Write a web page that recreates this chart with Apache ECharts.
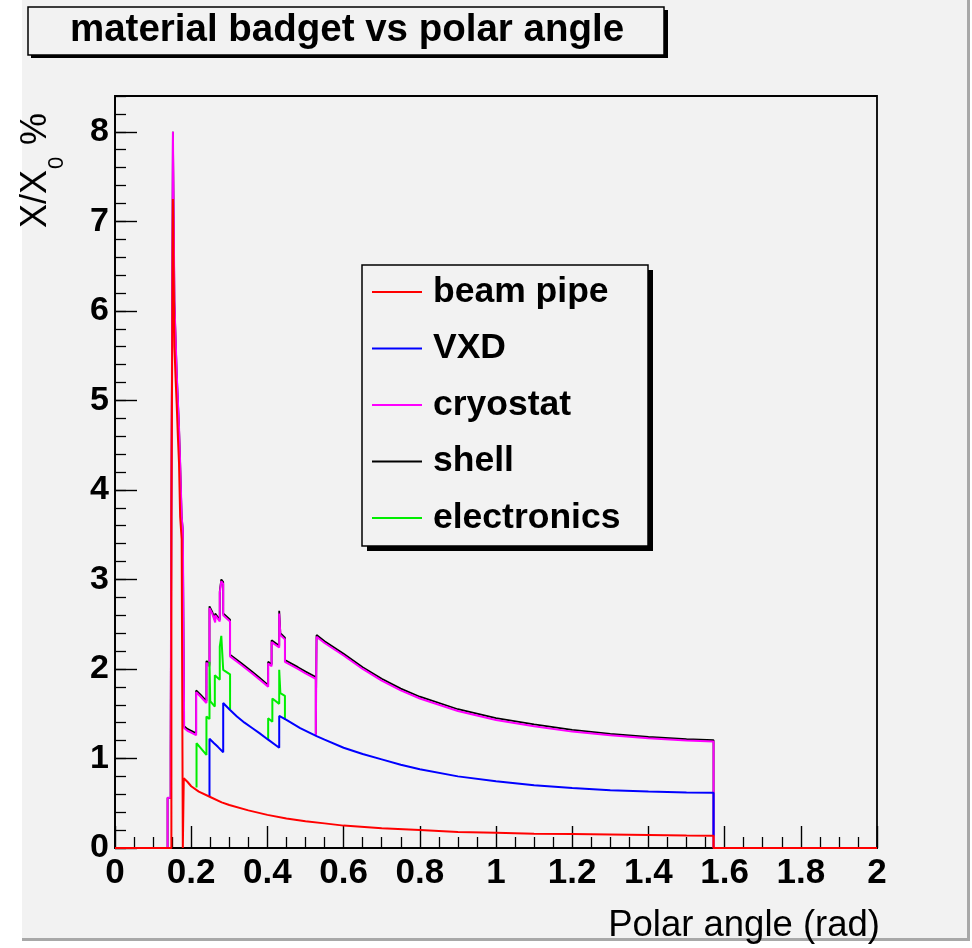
<!DOCTYPE html>
<html><head><meta charset="utf-8">
<script src="https://cdn.jsdelivr.net/npm/echarts@6/dist/echarts.min.js"></script>
<style>html,body{margin:0;padding:0;background:#fff}#c{width:972px;height:948px}</style>
</head><body><div id="c"></div>
<script>
// ---- data (x = polar angle in rad, y = X/X0 %) ----
const legendOrder = ['beam pipe', 'VXD', 'cryostat', 'shell', 'electronics'];
const xTicks = { min: 0, max: 2, interval: 0.2 };
const yTicks = { min: 0, max: 8.4, interval: 1 };

const beamPipe = [[0,0],[0.148,0],[0.148,3.7],[0.152,3.7],[0.152,7.25],[0.156,7.25],[0.156,5.6],[0.159,5.6],[0.159,5.25],[0.162,5.25],[0.162,4.95],[0.165,4.95],[0.165,4.6],[0.168,4.6],[0.168,4.3],[0.171,4.3],[0.171,3.7],[0.175,3.7],[0.175,3.45],[0.178,3.45],[0.178,0],[0.1805,0],[0.1805,0.78],[0.19,0.74],[0.2,0.69],[0.22,0.63],[0.25,0.57],[0.28,0.51],[0.3,0.48],[0.35,0.42],[0.4,0.37],[0.45,0.33],[0.5,0.30],[0.55,0.275],[0.6,0.25],[0.7,0.22],[0.8,0.20],[0.9,0.18],[1.0,0.17],[1.1,0.16],[1.2,0.155],[1.3,0.15],[1.4,0.145],[1.5,0.14],[1.571,0.138],[1.571,0],[2,0]];

const vxd = [[0.248,0.57],[0.248,1.22],[0.26,1.17],[0.27,1.13],[0.284,1.07],[0.284,1.62],[0.30,1.55],[0.32,1.47],[0.34,1.40],[0.36,1.34],[0.38,1.28],[0.402,1.21],[0.431,1.12],[0.431,1.475],[0.45,1.43],[0.486,1.34],[0.529,1.25],[0.55,1.21],[0.6,1.12],[0.65,1.05],[0.7,0.99],[0.75,0.93],[0.8,0.88],[0.9,0.80],[1.0,0.745],[1.1,0.70],[1.2,0.67],[1.3,0.645],[1.4,0.63],[1.5,0.62],[1.571,0.618],[1.571,0.138]];

const cryostat = [[0,0],[0.138,0],[0.138,0.56],[0.146,0.56],[0.146,1.1],[0.148,1.1],[0.148,3.8],[0.152,3.8],[0.152,8.0],[0.156,8.0],[0.156,6.1],[0.159,6.1],[0.159,5.7],[0.162,5.7],[0.162,5.3],[0.165,5.3],[0.165,5.0],[0.168,5.0],[0.168,4.7],[0.171,4.7],[0.171,4.3],[0.175,4.3],[0.175,3.7],[0.178,3.7],[0.178,3.55],[0.1815,3.55],[0.1815,1.34],[0.19,1.31],[0.2,1.29],[0.213,1.26],[0.213,1.74],[0.225,1.69],[0.240,1.62],[0.240,2.07],[0.248,2.03],[0.248,2.68],[0.255,2.62],[0.263,2.52],[0.263,2.60],[0.275,2.53],[0.275,2.85],[0.279,2.83],[0.279,2.98],[0.284,2.95],[0.284,2.60],[0.302,2.53],[0.302,2.14],[0.33,2.05],[0.36,1.95],[0.38,1.88],[0.402,1.80],[0.402,2.06],[0.411,2.03],[0.411,2.30],[0.431,2.24],[0.431,2.62],[0.434,2.62],[0.434,2.38],[0.446,2.33],[0.446,2.08],[0.48,2.0],[0.5,1.95],[0.527,1.89],[0.527,1.25],[0.529,1.25],[0.529,2.36],[0.55,2.29],[0.6,2.15],[0.65,2.0],[0.7,1.87],[0.75,1.76],[0.8,1.67],[0.9,1.53],[1.0,1.43],[1.1,1.36],[1.2,1.30],[1.3,1.26],[1.4,1.225],[1.5,1.20],[1.571,1.19],[1.571,0],[2,0]];

const shell = [[0,0],[0.138,0],[0.138,0.56],[0.146,0.56],[0.146,1.1],[0.148,1.1],[0.148,3.8],[0.152,3.8],[0.152,8.0],[0.156,8.0],[0.156,6.1],[0.159,6.1],[0.159,5.7],[0.162,5.7],[0.162,5.3],[0.165,5.3],[0.165,5.0],[0.168,5.0],[0.168,4.7],[0.171,4.7],[0.171,4.3],[0.175,4.3],[0.175,3.7],[0.178,3.7],[0.178,3.55],[0.1815,3.55],[0.1815,1.36],[0.19,1.33],[0.2,1.31],[0.213,1.28],[0.213,1.76],[0.225,1.71],[0.240,1.64],[0.240,2.09],[0.248,2.05],[0.248,2.70],[0.255,2.64],[0.263,2.54],[0.263,2.62],[0.275,2.55],[0.275,2.87],[0.279,2.85],[0.279,3.0],[0.284,2.97],[0.284,2.62],[0.302,2.55],[0.302,2.16],[0.33,2.07],[0.36,1.97],[0.38,1.90],[0.402,1.82],[0.402,2.08],[0.411,2.05],[0.411,2.32],[0.431,2.26],[0.431,2.65],[0.434,2.65],[0.434,2.40],[0.446,2.35],[0.446,2.10],[0.48,2.02],[0.5,1.97],[0.527,1.91],[0.527,1.27],[0.529,1.27],[0.529,2.38],[0.55,2.31],[0.6,2.17],[0.65,2.02],[0.7,1.89],[0.75,1.78],[0.8,1.69],[0.9,1.55],[1.0,1.45],[1.1,1.38],[1.2,1.32],[1.3,1.275],[1.4,1.24],[1.5,1.215],[1.571,1.205],[1.571,0],[2,0]];

const electronics = [[0.214,0.675],[0.214,1.17],[0.23,1.09],[0.240,1.04],[0.240,1.47],[0.248,1.44],[0.248,2.08],[0.250,2.08],[0.250,1.64],[0.262,1.58],[0.262,1.93],[0.275,1.88],[0.275,2.25],[0.279,2.24],[0.279,2.37],[0.284,2.36],[0.284,1.99],[0.302,1.94],[0.302,1.55],null,[0.402,1.21],[0.402,1.45],[0.413,1.41],[0.413,1.67],[0.431,1.61],[0.431,1.99],[0.434,1.99],[0.434,1.73],[0.446,1.70],[0.446,1.43]];

// ---- chart ----
const FONT = '"Liberation Sans", Arial, Helvetica, sans-serif';
const chart = echarts.init(document.getElementById('c'), null, { renderer: 'canvas' });

function line(name, data, color, width) {
  return {
    name: name, type: 'line', data: data, symbol: 'none', showSymbol: false,
    connectNulls: false, animation: false, silent: true,
    lineStyle: { color: color, width: width },
    itemStyle: { color: color }
  };
}

const option = {
  backgroundColor: '#f2f2f2',
  animation: false,
  grid: { left: 115, right: 95, top: 96, bottom: 100, show: true, borderColor: '#000', borderWidth: 1.8, backgroundColor: 'transparent', containLabel: false, outerBoundsMode: 'none' },
  xAxis: {
    type: 'value', min: xTicks.min, max: xTicks.max, interval: xTicks.interval,
    axisLine: { show: true, lineStyle: { color: '#000', width: 1.8 } },
    axisTick: { show: true, inside: true, length: 22, lineStyle: { color: '#000', width: 1.4 } },
    minorTick: { show: true, splitNumber: 4, length: 11, lineStyle: { color: '#000', width: 1.3 } },
    splitLine: { show: false },
    axisLabel: { margin: 8, fontSize: 35, fontWeight: 'bold', color: '#000', fontFamily: FONT, showMinLabel: true, showMaxLabel: true }
  },
  yAxis: [{
    type: 'value', min: yTicks.min, max: yTicks.max, interval: yTicks.interval,
    axisLine: { show: true, lineStyle: { color: '#000', width: 1.8 } },
    axisTick: { show: true, inside: true, length: 22, lineStyle: { color: '#000', width: 1.4 } },
    splitLine: { show: false },
    axisLabel: { margin: 6, fontSize: 34, fontWeight: 'bold', color: '#000', fontFamily: FONT, showMaxLabel: false }
  }, {
    type: 'value', min: yTicks.min, max: yTicks.max, interval: 0.2, position: 'left',
    axisLine: { show: false },
    axisTick: { show: true, inside: true, length: 11, lineStyle: { color: '#000', width: 1.3 } },
    splitLine: { show: false },
    axisLabel: { show: false }
  }],
  legend: {
    data: legendOrder, orient: 'vertical', left: 362, top: 265,
    padding: [9, 20, 10, 10], itemGap: 20.5, itemWidth: 50, itemHeight: 2, icon: 'rect',
    selectedMode: false, z: 8,
    textStyle: { fontSize: 35.5, fontWeight: 'bold', color: '#000', fontFamily: FONT, lineHeight: 36, padding: [0, 0, 0, 6] }
  },
  graphic: [
    { type: 'rect', silent: true, shape: { x: 0, y: 0, width: 22, height: 948 }, style: { fill: '#fff' } },
    { type: 'rect', silent: true, shape: { x: 0, y: 941, width: 972, height: 7 }, style: { fill: '#fff' } },
    { type: 'rect', silent: true, shape: { x: 970, y: 0, width: 2, height: 948 }, style: { fill: '#fff' } },
    { type: 'rect', silent: true, shape: { x: 967, y: 0, width: 3, height: 941 }, style: { fill: '#a8a8a8' } },
    { type: 'rect', silent: true, shape: { x: 22, y: 938, width: 948, height: 3 }, style: { fill: '#a8a8a8' } },
    // title box
    { type: 'rect', silent: true, shape: { x: 31, y: 10, width: 637, height: 48 }, style: { fill: '#000' } },
    { type: 'rect', silent: true, shape: { x: 28, y: 7, width: 636, height: 48 }, style: { fill: '#f2f2f2', stroke: '#000', lineWidth: 1.5 } },
    { type: 'text', silent: true, x: 347, y: 30, style: { text: 'material badget vs polar angle', font: 'bold 38.5px ' + FONT, fill: '#000', textAlign: 'center', textVerticalAlign: 'middle', align: 'center', verticalAlign: 'middle' } },
    // legend box
    { type: 'rect', silent: true, z: 4, shape: { x: 367, y: 270, width: 286, height: 281 }, style: { fill: '#000' } },
    { type: 'rect', silent: true, z: 5, shape: { x: 362, y: 265, width: 286, height: 281 }, style: { fill: '#f2f2f2', stroke: '#000', lineWidth: 1.5 } },
    // y axis title X/X0 %
    { type: 'text', silent: true, x: 36.5, y: 228, rotation: Math.PI / 2, style: { text: 'X/X', font: '36px ' + FONT, fill: '#000', textAlign: 'left', textVerticalAlign: 'middle', align: 'left', verticalAlign: 'middle' } },
    { type: 'text', silent: true, x: 56.5, y: 169, rotation: Math.PI / 2, style: { text: '0', font: '22px ' + FONT, fill: '#000', textAlign: 'left', textVerticalAlign: 'middle', align: 'left', verticalAlign: 'middle' } },
    { type: 'text', silent: true, x: 36.5, y: 145, rotation: Math.PI / 2, style: { text: '%', font: '36px ' + FONT, fill: '#000', textAlign: 'left', textVerticalAlign: 'middle', align: 'left', verticalAlign: 'middle' } },
    // x axis title
    { type: 'text', silent: true, x: 880, y: 926, style: { text: 'Polar angle (rad)', font: '36.5px ' + FONT, fill: '#000', textAlign: 'right', textVerticalAlign: 'middle', align: 'right', verticalAlign: 'middle' } }
  ],
  series: [
    line('shell', shell, '#000000', 1.8),
    line('cryostat', cryostat, '#ff00ff', 2),
    line('electronics', electronics, '#00ee00', 2),
    line('VXD', vxd, '#0000ff', 2),
    line('beam pipe', beamPipe, '#ff0000', 2)
  ]
};
chart.setOption(option);
</script>
</body></html>
